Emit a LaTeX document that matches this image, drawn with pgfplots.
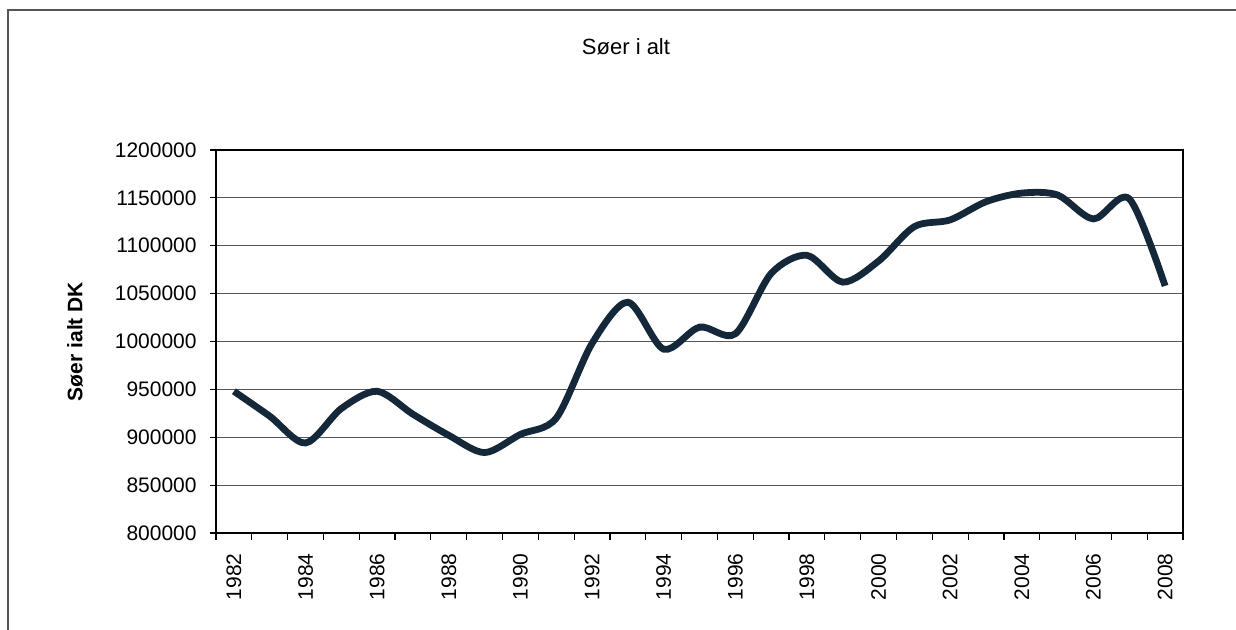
\documentclass[border=0pt]{standalone}
\usepackage{pgfplots}
\pgfplotsset{compat=1.18}
\usepackage{fontspec}
\setmainfont{Liberation Sans}
\definecolor{lineblue}{HTML}{14283A}
\definecolor{gridgray}{HTML}{555555}
\begin{document}
\begin{tikzpicture}
\useasboundingbox (-108pt,-48.5pt) rectangle (510pt,266.5pt);
\draw[gridgray, line width=0.6pt] (-104pt,-48.5pt) -- (-104pt,261.5pt) -- (510pt,261.5pt);
\node[font=\fontsize{11}{13}\selectfont] at (205pt,243pt) {Søer i alt};
\begin{axis}[
  at={(0,0)}, anchor=south west,
  scale only axis,
  width=483.5pt, height=191.5pt,
  xmin=1981.5, xmax=2008.5,
  ymin=800000, ymax=1200000,
  scaled y ticks=false,
  axis line style={black, line width=0.6pt},
  tick align=outside,
  xtick pos=bottom, ytick pos=left,
  tick style={black, line width=0.6pt},
  major tick length=3pt,
  minor tick length=3.5pt,
  xtick={1982,1984,1986,1988,1990,1992,1994,1996,1998,2000,2002,2004,2006,2008},
  xticklabels={1982,1984,1986,1988,1990,1992,1994,1996,1998,2000,2002,2004,2006,2008},
  minor xtick={1981.5,1982.5,...,2008.5},
  major x tick style={draw=none},
  xticklabel style={rotate=90, anchor=east, inner sep=0pt, font=\fontsize{10.5}{12}\selectfont},
  xticklabel shift=7pt,
  ytick={800000,850000,900000,950000,1000000,1050000,1100000,1150000,1200000},
  yticklabels={800000,850000,900000,950000,1000000,1050000,1100000,1150000,1200000},
  yticklabel style={anchor=east, inner sep=0pt, font=\fontsize{10.5}{12}\selectfont},
  yticklabel shift=6.5pt,
  ymajorgrids,
  grid style={gridgray, line width=0.5pt},
  ylabel={\bfseries Søer ialt DK},
  ylabel style={font=\fontsize{10.5}{12}\selectfont, at={(axis description cs:-0.1458,0.5)}, anchor=center, rotate=0},
  clip=false,
]
\addplot[lineblue, line width=3.4pt, smooth, tension=0.5] coordinates {
(1982,948000) (1983,922000) (1984,894000) (1985,930000) (1986,948000)
(1987,924000) (1988,902000) (1989,884000) (1990,903000) (1991,920000)
(1992,998000) (1993,1041000) (1994,992000) (1995,1015000) (1996,1008000)
(1997,1071000) (1998,1090000) (1999,1062000) (2000,1084000) (2001,1120000)
(2002,1127000) (2003,1146000) (2004,1155000) (2005,1153000) (2006,1128000)
(2007,1149000) (2008,1058000)
};
\end{axis}
\end{tikzpicture}
\end{document}
